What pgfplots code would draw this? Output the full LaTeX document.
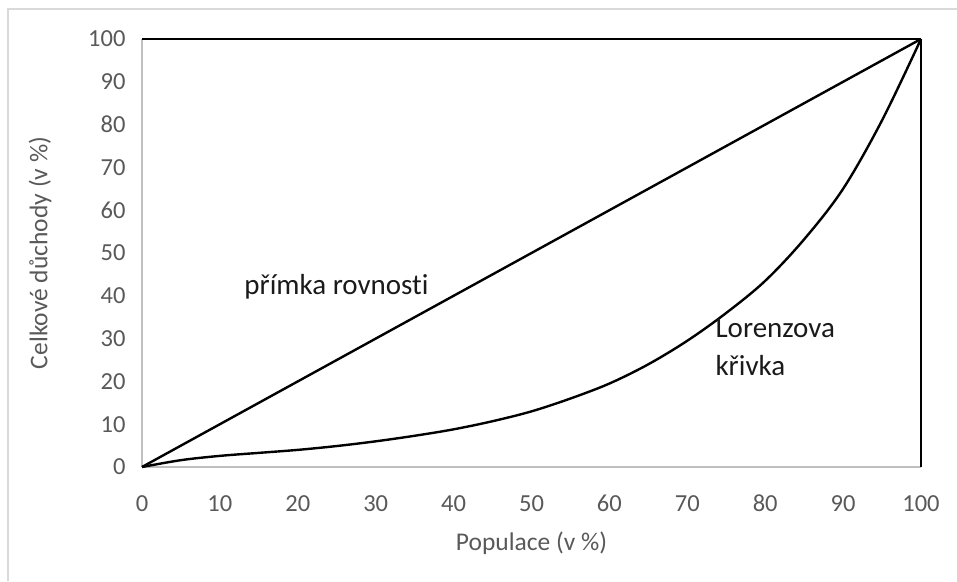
\documentclass[border=0pt]{standalone}
\usepackage{pgfplots}
\pgfplotsset{compat=1.18}
\usepackage{fontspec}
\setmainfont[Ligatures=NoCommon]{Carlito}
\definecolor{tickgray}{HTML}{595959}
\definecolor{axgray}{HTML}{BFBFBF}
\definecolor{bordergray}{HTML}{D9D9D9}
\definecolor{txt}{HTML}{1A1A1A}
\begin{document}
\begin{tikzpicture}[x=1pt,y=1pt]
% bounding box of whole chart (957 x 581), axis origin at (0,0)
\path[use as bounding box] (-142,-114) rectangle (815,467);
\draw[bordergray,line width=1.2pt] (-134,-114) -- (-134,458) -- (815,458);
\begin{axis}[
  at={(0,0)}, anchor=origin,
  scale only axis, width=779pt, height=428pt,
  xmin=0, xmax=100, ymin=0, ymax=100,
  axis lines=left,
  axis line style={axgray, line width=1.5pt, -},
  xtick={0,10,...,100}, ytick={0,10,...,100},
  major tick length=0pt,
  tick label style={font=\fontsize{24.5}{29}\selectfont, text=tickgray},
  /pgf/number format/assume math mode=true,
  xticklabel style={anchor=center, text height=16pt, text depth=0pt, yshift=-36pt},
  yticklabel style={xshift=-13pt},
  clip=false,
]
\addplot[black, line width=2.6pt] coordinates {(0,100) (100,100)};
\addplot[black, line width=2.6pt] coordinates {(100,0) (100,100)};
\addplot[black, line width=2.4pt] coordinates {(0,0) (100,100)};
\addplot[black, line width=2.4pt, smooth, tension=0.55] coordinates {
(0,0) (5,1.6) (10,2.6) (15,3.3) (20,4.0) (25,4.9) (30,6.0) (35,7.3) (40,8.8) (45,10.7) (50,13.0) (55,16.0) (60,19.5) (65,24.0) (70,29.5) (75,36.0) (80,43.5) (85,53.2) (90,65.0) (95,81.0) (100,100)};
\node[anchor=west, font=\fontsize{29}{34}\selectfont, text=txt] at (axis cs:12.7,42) {přímka rovnosti};
\node[anchor=north west, align=left, font=\fontsize{29}{38}\selectfont, text=txt, inner sep=0pt] at (axis cs:73.6,34.7) {Lorenzova\\křivka};
\end{axis}
\node[font=\fontsize{25.5}{30}\selectfont, text=tickgray] at (389.5,-76) {Populace (v \%)};
\node[rotate=90, font=\fontsize{25.5}{30}\selectfont, text=tickgray] at (-102,214) {Celkové důchody (v \%)};
\end{tikzpicture}
\end{document}
